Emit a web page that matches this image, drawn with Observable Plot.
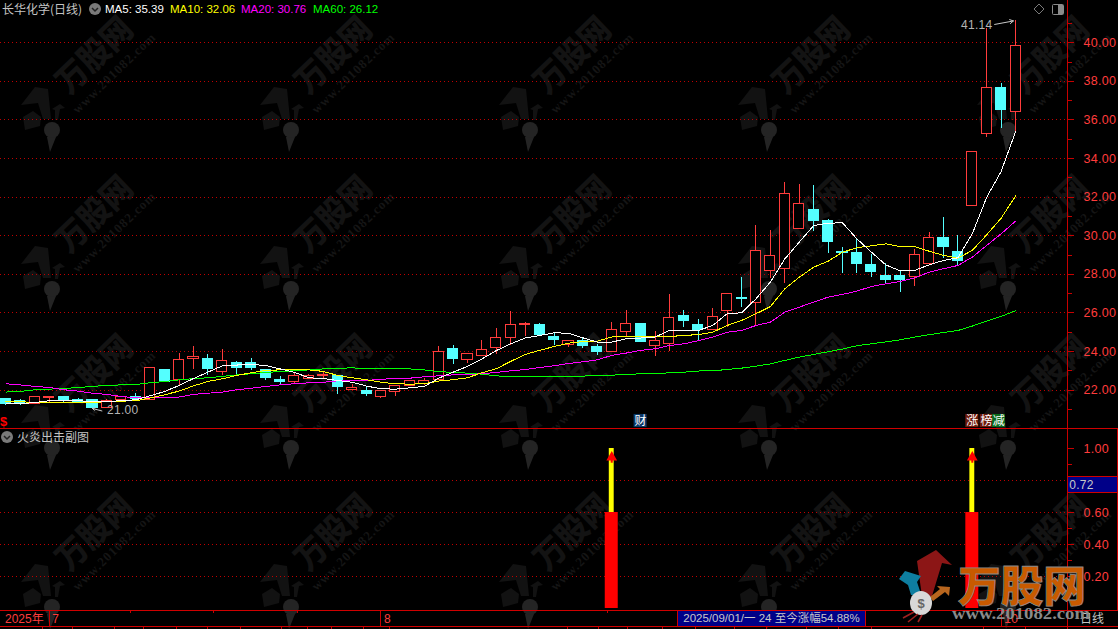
<!DOCTYPE html>
<html><head><meta charset="utf-8">
<script src="https://cdn.jsdelivr.net/npm/d3@7"></script>
<script src="https://cdn.jsdelivr.net/npm/@observablehq/plot@0.6"></script>
<style>
html,body{margin:0;padding:0;background:#000;overflow:hidden}
#stage{position:relative;width:1118px;height:629px;background:#000;overflow:hidden;font-family:"Liberation Sans",Arial,sans-serif}
#stage>div.pane{position:absolute;left:0}
.lbl{position:absolute;white-space:nowrap;font-size:11.5px;line-height:14px;letter-spacing:0}
.cjk{font-family:"Noto Sans CJK SC",sans-serif;color:#c4c4c4;font-size:12px;line-height:14px;position:absolute;white-space:nowrap}
svg{display:block}
</style></head><body><div id="stage"></div>
<script>
const opens=[21.52,21.43,21.29,21.6,21.67,21.5,21.5,21.07,21.5,21.67,21.5,23.02,22.5,23.6,23.59,22.93,23.42,23.42,23.05,22.5,22.43,22.59,22.71,22.71,22.03,21.93,21.64,21.92,22.21,22.33,22.54,24.14,23.55,23.76,24.18,24.69,25.4,25.35,24.73,24.33,24.57,24.21,23.99,25.0,25.44,24.3,24.4,25.82,25.35,25.13,26.09,26.8,26.53,28.18,28.29,30.36,31.35,30.74,29.16,29.12,28.51,27.94,27.89,27.85,28.53,29.86,29.17,31.53,35.26,37.67,36.42];
const highs=[21.55,21.5,21.66,21.66,21.67,21.58,21.5,21.5,21.67,21.81,23.16,23.02,23.88,24.26,23.85,24.09,23.5,23.63,23.05,22.71,22.85,22.81,22.97,22.71,22.29,22.15,21.98,22.23,22.49,22.6,24.26,24.32,23.88,24.57,25.2,26.06,25.5,25.45,24.95,24.56,24.73,24.37,25.5,26.13,25.44,25.04,26.96,26.13,25.66,26.22,26.99,27.85,30.53,30.27,32.74,32.66,32.6,30.83,29.38,29.81,29.03,28.55,28.2,29.27,30.17,30.95,30.01,34.35,40.72,37.87,41.14];
const lows=[21.2,21.2,21.29,21.36,21.29,21.29,21.0,21.07,21.38,21.5,21.5,22.43,22.24,23.05,22.78,22.78,22.78,23.02,22.5,22.29,22.33,22.59,22.59,21.78,21.98,21.67,21.57,21.67,22.21,22.25,22.54,23.33,23.4,23.76,23.85,24.32,24.8,24.88,24.32,24.2,24.17,23.8,23.99,24.75,24.49,23.76,24.02,25.26,24.57,25.13,25.26,26.3,25.35,27.77,27.54,30.36,30.2,29.07,28.06,28.06,27.85,27.46,27.08,27.39,28.53,28.81,28.46,31.53,35.1,35.57,35.37];
const closes=[21.29,21.27,21.66,21.66,21.46,21.41,21.05,21.45,21.67,21.55,23.16,22.43,23.57,23.73,23.07,23.5,23.14,23.14,22.62,22.4,22.71,22.71,22.81,22.16,22.12,21.79,21.98,22.23,22.49,22.49,23.99,23.59,23.88,24.09,24.71,25.4,25.42,24.88,24.59,24.56,24.28,24.0,25.13,25.42,24.49,24.56,25.75,25.56,25.14,25.8,26.99,26.71,29.22,28.94,32.17,31.66,30.76,29.67,29.1,28.53,28.11,27.73,27.73,29.01,29.89,29.41,28.7,34.35,37.67,36.51,39.84];
const ma5=[21.33,21.29,21.36,21.45,21.48,21.46,21.39,21.41,21.45,21.5,21.71,21.93,22.24,22.6,22.93,23.26,23.3,23.33,23.28,23.1,22.92,22.64,22.6,22.5,22.41,22.21,22.07,22.05,22.12,22.19,22.62,22.93,23.23,23.62,24.05,24.4,24.7,24.83,24.97,24.95,24.71,24.49,24.49,24.66,24.7,24.75,25.09,25.11,25.09,25.35,25.96,26.01,26.73,27.6,28.8,29.67,30.53,30.65,30.67,29.84,29.15,28.49,28.18,28.2,28.49,28.72,28.86,30.1,32.0,33.33,35.39];
const ma10=[21.41,21.4,21.36,21.34,21.34,21.34,21.36,21.4,21.43,21.45,21.59,21.76,21.95,22.22,22.45,22.59,22.76,22.9,23.02,23.05,23.05,23.05,22.97,22.76,22.64,22.54,22.41,22.33,22.31,22.33,22.47,22.54,22.64,22.9,23.11,23.49,23.85,24.06,24.26,24.43,24.52,24.54,24.75,24.8,24.8,24.78,24.78,24.83,24.88,25.0,25.35,25.61,25.96,26.33,27.25,27.85,28.37,28.68,29.15,29.38,29.48,29.58,29.44,29.44,29.2,28.98,28.84,29.24,30.05,30.91,32.06];
const ma20=[22.33,22.27,22.19,22.14,22.02,21.95,21.84,21.78,21.67,21.6,21.6,21.6,21.64,21.78,21.84,21.9,22.02,22.1,22.19,22.27,22.33,22.38,22.41,22.48,22.48,22.5,22.57,22.59,22.62,22.69,22.74,22.79,22.81,22.85,22.92,23.0,23.07,23.17,23.26,23.38,23.47,23.57,23.8,23.92,24.06,24.14,24.31,24.4,24.56,24.75,25.0,25.09,25.35,25.52,26.04,26.3,26.56,26.82,26.96,27.13,27.37,27.51,27.63,27.82,28.11,28.29,28.46,28.89,29.5,30.1,30.76];
const ma60=[21.9,21.93,22.02,22.05,22.1,22.12,22.21,22.22,22.28,22.29,22.38,22.45,22.53,22.6,22.64,22.71,22.79,22.85,22.91,22.97,23.0,23.05,23.1,23.12,23.16,23.1,23.1,23.1,23.1,23.05,22.95,22.93,22.88,22.83,22.74,22.69,22.73,22.73,22.69,22.69,22.73,22.74,22.78,22.8,22.85,22.85,22.9,22.93,22.99,23.0,23.07,23.14,23.24,23.36,23.54,23.71,23.85,23.99,24.13,24.3,24.4,24.5,24.61,24.75,24.87,24.99,25.09,25.32,25.58,25.82,26.12];
const priceTicks=[22,24,26,28,30,32,34,36,38,40];
const priceMinor=[21,23,25,27,29,31,33,35,37,39,41];
const subTicks=[1,0.6,0.4,0.2];
const subMinor=[0.9,0.5,0.3,0.1];
const subGrid=[0.8,0.6,0.4,0.2];
const signalIdx=[42,67];
const signalBase=[0.6,0.6];
const signalTop=[1,1];
const markerIdx=[44,67,68,68.85];
const markerText=["财","涨","榜","减"];
const markerColor=["#0a3868","#6e1a0c","#6e1a0c","#0b6b1e"];
const monthIdx=[3,26,69];
const monthText=["7","8","10"];
const weekIdx=[8.6,14.4,20.2,41.7];
const stripTicks=[2.53,4.61,7.52,9.54,11.82,13.97,16.26,19.1,20.9,22.57,24.79,26.6,38.94,41.09,43.1,45.5,47.8,50.5,52.7,55.5,57.7,60,67.8,70.7];

const rows=opens.map((o,i)=>({i,o,h:highs[i],l:lows[i],c:closes[i],up:closes[i]>=o,ma5:ma5[i],ma10:ma10[i],ma20:ma20[i],ma60:ma60[i]}));
const xDom=[-0.381,73.6];
const AX=73.62;
const RIGHT=77.08, AXIS="#c80000", LAB="#ff3c3c", GRID="#c00000", FONT='"Liberation Sans",Arial,sans-serif';
const CJK='"Noto Sans CJK SC",sans-serif';
const HW=0.35;
const stage=document.getElementById("stage");

function pane(top,node){const d=document.createElement("div");d.className="pane";d.style.top=top+"px";d.appendChild(node);stage.appendChild(d);}

(function(){
  const ns=[];
  const logo=(cx,cy,a,b)=>`<g transform="translate(${cx},${cy})"><polygon fill="${a}" points="-22,-12 -8,-30 5,-28 8,2 0,2 -5,-14"/><polygon fill="${a}" points="17,-13 22,-9 17,-8 15,3 12,3 12,-7 9,-8"/><polygon fill="${a}" points="-10,-6 -2,0 -3,9 -18,13 -20,0"/><polygon fill="${b}" points="7,35 4,20 13,20"/><ellipse cx="9" cy="13" rx="8" ry="8" fill="${b}"/></g>`;
  for(let c=0;c<5;c++)for(let r=0;r<4;r++){
    const tx=96+239*c, ty=57+159*r;
    ns.push(`<text transform="translate(${tx},${ty}) rotate(-44)" text-anchor="middle" dominant-baseline="middle" font-family='${CJK}' font-weight="900" font-size="33" textLength="92" lengthAdjust="spacingAndGlyphs" fill="#131313">万股网</text>`);
    ns.push(`<text transform="translate(${tx+19},${ty+17}) rotate(-44)" text-anchor="middle" dominant-baseline="middle" font-family='"Liberation Serif",serif' font-weight="700" font-size="13" letter-spacing="1" fill="#151515">www.201082.com</text>`);
    ns.push(logo(43+239*c,117+159*r,"#121212","#242424"));
  }
  const d=document.createElement("div");d.className="pane";d.style.top="0";
  d.innerHTML=`<svg width="1118" height="629" style="display:block">${ns.join("")}</svg>`;
  stage.appendChild(d);
})();

const crisp={shapeRendering:"crispEdges"};
const main=Plot.plot({
  width:1118,height:429,marginTop:0,marginBottom:0,marginLeft:0,marginRight:51,
  style:{background:"transparent",fontFamily:FONT,letterSpacing:"0.3px"},
  x:{domain:xDom,axis:null},
  y:{domain:[19.96,42.19],axis:null},
  marks:[
    Plot.ruleY(priceTicks,{stroke:GRID,strokeDasharray:"1,3",strokeWidth:1,...crisp}),
    Plot.ruleX(rows,{x:"i",y1:"l",y2:"h",stroke:d=>d.up?"#ff3c3c":"#54ffff",strokeWidth:1,...crisp}),
    Plot.rect(rows,{x1:d=>d.i-HW,x2:d=>d.i+HW,y1:"o",y2:"c",fill:d=>d.up?"#000":"#54ffff",stroke:d=>d.up?"#ff3c3c":"#54ffff",strokeWidth:1,...crisp}),
    Plot.line(rows,{x:"i",y:"ma60",stroke:"#00ff00",strokeWidth:1,...crisp}),
    Plot.line(rows,{x:"i",y:"ma20",stroke:"#ff00ff",strokeWidth:1,...crisp}),
    Plot.line(rows,{x:"i",y:"ma10",stroke:"#ffff00",strokeWidth:1,...crisp}),
    Plot.line(rows,{x:"i",y:"ma5",stroke:"#ffffff",strokeWidth:1,...crisp}),
    Plot.axisY(priceTicks,{anchor:"right",tickSize:6,tickPadding:10,stroke:AXIS,fill:LAB,tickFormat:d3.format(".2f"),fontSize:12.5,label:null,...crisp}),
    Plot.axisY(priceMinor,{anchor:"right",tickSize:4,stroke:AXIS,tickFormat:()=>"",label:null,...crisp}),
    Plot.ruleX([AX],{y1:19.96,y2:42.19,stroke:AXIS,strokeWidth:1,...crisp}),
    Plot.ruleY([20.014],{x1:xDom[0],x2:RIGHT+0.2,stroke:"#d00000",strokeWidth:1,...crisp}),
    Plot.text([41.14],{x:[68.4],y:[40.9],text:d=>d.toFixed(2),fill:"#b4b4b4",textAnchor:"end",fontSize:12,fontFamily:FONT}),
    Plot.arrow([0],{x1:[68.55],y1:[40.95],x2:[69.85],y2:[41.13],stroke:"#c8c8c8",strokeWidth:1,headLength:6,bend:false}),
    Plot.text([21.00],{x:[7.0],y:[20.98],text:d=>d.toFixed(2),fill:"#b4b4b4",textAnchor:"start",fontSize:12,fontFamily:FONT}),
    Plot.arrow([0],{x1:[6.65],y1:[20.92],x2:[6.0],y2:[21.05],stroke:"#c8c8c8",strokeWidth:1,headLength:4,bend:false}),
    Plot.rect(markerIdx,{x1:d=>d-0.45,x2:d=>d+0.45,y1:20.06,y2:20.74,fill:(d,i)=>markerColor[i]}),
    Plot.text(markerText,{x:(d,i)=>markerIdx[i],y:20.4,text:d=>d,fill:"#fff",fontFamily:CJK,fontSize:12}),
    Plot.text(["$"],{x:[-0.15],y:[20.35],text:d=>d,fill:"#ff0000",fontWeight:"bold",fontSize:13,fontFamily:FONT})
  ]
});
pane(0,main);

const sigRows=signalIdx.map((i,k)=>({i,base:signalBase[k],top:signalTop[k]}));
const sub=Plot.plot({
  width:1118,height:181,marginTop:0,marginBottom:0,marginLeft:0,marginRight:51,
  style:{background:"transparent",fontFamily:FONT,letterSpacing:"0.3px"},
  x:{domain:xDom,axis:null},
  y:{domain:[-0.0125,1.11875],axis:null},
  marks:[
    Plot.ruleY(subGrid,{stroke:GRID,strokeDasharray:"1,3",strokeWidth:1,...crisp}),
    Plot.rect(sigRows,{x1:d=>d.i-0.45,x2:d=>d.i+0.45,y1:0,y2:"base",fill:"#ff0000"}),
    Plot.rect(sigRows,{x1:d=>d.i-0.17,x2:d=>d.i+0.17,y1:"base",y2:"top",fill:"#ffff00"}),
    Plot.ruleX(sigRows,{x:"i",y1:0.908,y2:0.95,stroke:"#ff0000",strokeWidth:2}),
    Plot.dot(sigRows,{x:"i",y:0.945,symbol:"triangle",r:4,fill:"#ff0000"}),
    Plot.axisY(subTicks,{anchor:"right",tickSize:6,tickPadding:10,stroke:AXIS,fill:LAB,tickFormat:d3.format(".2f"),fontSize:12.5,label:null,...crisp}),
    Plot.axisY(subMinor,{anchor:"right",tickSize:4,stroke:AXIS,tickFormat:()=>"",label:null,...crisp}),
    Plot.rect([0.72],{x1:xDom[1]+0.05,x2:RIGHT,y1:0.723,y2:0.82,fill:"#000088",stroke:"#d00000",strokeWidth:1,...crisp}),
    Plot.text([0.72],{x:[xDom[1]+0.12],y:[0.772],text:d=>d.toFixed(2),fill:"#c8c8c8",textAnchor:"start",fontSize:12,fontFamily:FONT}),
    Plot.ruleX([AX],{y1:-0.0125,y2:1.11875,stroke:AXIS,strokeWidth:1,...crisp}),
    Plot.ruleX([RIGHT],{y1:-0.0125,y2:1.11875,stroke:"#d00000",strokeWidth:1,...crisp})
  ]
});
pane(429,sub);

const bottom=Plot.plot({
  width:1118,height:19,marginTop:0,marginBottom:0,marginLeft:0,marginRight:51,
  style:{background:"transparent",fontFamily:FONT,letterSpacing:"0.3px"},
  x:{domain:xDom,axis:null},
  y:{domain:[19,0],axis:null},
  marks:[
    Plot.ruleX(monthIdx,{y1:0,y2:16,stroke:AXIS,strokeWidth:1,...crisp}),
    Plot.ruleX(weekIdx,{y1:0,y2:2.5,stroke:AXIS,strokeWidth:1,...crisp}),
    Plot.ruleX(stripTicks,{y1:16,y2:19,stroke:AXIS,strokeWidth:1,...crisp}),
    Plot.text(monthText,{x:(d,i)=>monthIdx[i],y:8.5,dx:3,text:d=>d,fill:LAB,textAnchor:"start",fontSize:12,fontFamily:FONT}),
    Plot.ruleX([AX],{y1:0,y2:19,stroke:AXIS,strokeWidth:1,...crisp}),
    Plot.ruleY([0],{x1:xDom[0],x2:RIGHT+0.2,stroke:"#d00000",strokeWidth:1,...crisp}),
    Plot.ruleY([16],{x1:xDom[0],x2:RIGHT+0.2,stroke:"#d00000",strokeWidth:1,...crisp})
  ]
});
pane(610,bottom);

function add(html){const t=document.createElement("div");t.innerHTML=html;while(t.firstChild)stage.appendChild(t.firstChild);}
add(`<div class="cjk" style="left:2px;top:2px">长华化学(日线)</div>
<div class="lbl" style="left:105px;top:2px;color:#fff">MA5: 35.39</div>
<div class="lbl" style="left:170px;top:2px;color:#ff0">MA10: 32.06</div>
<div class="lbl" style="left:241px;top:2px;color:#f0f">MA20: 30.76</div>
<div class="lbl" style="left:313px;top:2px;color:#0f0">MA60: 26.12</div>
<div class="cjk" style="left:17px;top:430px">火炎出击副图</div>
<div class="lbl" style="left:5px;top:612px;color:${LAB};font-size:12px;font-family:'Liberation Sans',${CJK.replace(/"/g,"'")}">2025年</div>
<div class="cjk" style="left:677px;top:610px;width:187px;height:15px;background:#000088;border:1px solid #d00000;color:#c8c8c8;font-size:11.5px;line-height:15px;box-sizing:content-box;overflow:hidden;text-align:center;font-family:'Liberation Sans',${CJK.replace(/"/g,"'")}">2025/09/01/一 24 至今涨幅54.88%</div>
<div class="cjk" style="left:1080px;top:611px;font-size:12px">日线</div>
<svg style="position:absolute;left:0;top:0" width="1118" height="629">
 <circle cx="95" cy="9" r="6" fill="#7a7a7a"/><path d="M92 8l3 3 3-3" fill="none" stroke="#222" stroke-width="1.5"/>
 <circle cx="7" cy="437" r="6" fill="#7a7a7a"/><path d="M4 436l3 3 3-3" fill="none" stroke="#222" stroke-width="1.5"/>
 <path d="M1039 4l5 5-5 5-5-5z" fill="none" stroke="#7a7a7a"/>
 <rect x="1052.5" y="4.5" width="11" height="10" rx="1" fill="none" stroke="#8a8a8a"/><rect x="1058" y="5" width="5" height="9" fill="#8a8a8a"/>
 <g>
  <polygon fill="#8c1616" points="922,596 917,561 936,550 952,565 942,563 932,596"/>
  <polygon fill="#0e7ea0" points="899,579 905,571 921,576 917,582 922,597 911,595 908,585"/>
  <polygon fill="#b8661e" points="930,597 940,589 937,586 950,587 949,596 945,592 933,601"/>
  <ellipse cx="921" cy="603" rx="11" ry="12" fill="#d8d8d8"/>
  <text x="921" y="608" text-anchor="middle" font-size="13" font-weight="bold" fill="#666">$</text>
  <path d="M914 612l-11 6M918 614l-10 8M922 615l-4 7" stroke="#a02020" stroke-width="1.6" fill="none"/>
 </g>
 <text x="1022" y="602" text-anchor="middle" font-family='${CJK}' font-weight="900" font-size="43" textLength="128" lengthAdjust="spacingAndGlyphs" fill="#c85a00" stroke="#8c8c8c" stroke-width="0.8">万股网</text>
 <text x="1021" y="619" text-anchor="middle" font-family='"Liberation Serif",serif' font-weight="700" font-size="17" textLength="138" lengthAdjust="spacingAndGlyphs" fill="#8a8a8a">www.201082.com</text>
</svg>`);
</script></body></html>
